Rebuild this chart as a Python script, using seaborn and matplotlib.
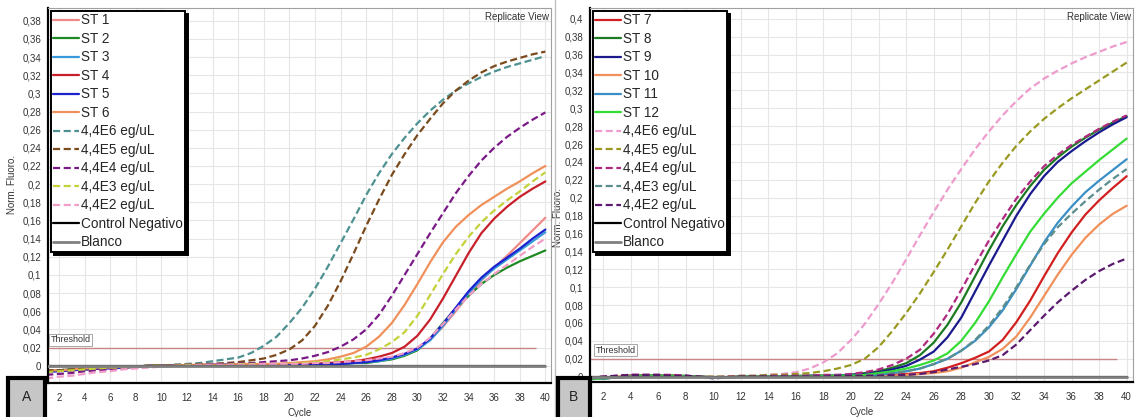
import matplotlib
matplotlib.use('Agg')
import numpy as np
import pandas as pd
import matplotlib.pyplot as plt
import seaborn as sns
from matplotlib import font_manager
from matplotlib.patches import Rectangle
from matplotlib.lines import Line2D

cycles = list(range(1, 41))
threshold = 0.02

# ---- panel A (values per cycle 1..40) ----
st1_a = [-0.006, -0.005, -0.005, -0.004, -0.003, -0.002, -0.002, -0.001, 0.000, 0.000,
         0.000, 0.000, 0.001, 0.001, 0.001, 0.001, 0.001, 0.001, 0.002, 0.002,
         0.002, 0.002, 0.003, 0.003, 0.004, 0.005, 0.007, 0.009, 0.013, 0.019,
         0.029, 0.043, 0.060, 0.078, 0.094, 0.108, 0.121, 0.135, 0.149, 0.163]
st2_a = [-0.005, -0.005, -0.004, -0.004, -0.003, -0.002, -0.002, -0.001, 0.000, 0.000,
         0.000, 0.000, 0.000, 0.000, 0.001, 0.001, 0.001, 0.001, 0.001, 0.001,
         0.001, 0.001, 0.002, 0.002, 0.003, 0.003, 0.005, 0.007, 0.011, 0.017,
         0.030, 0.047, 0.063, 0.077, 0.090, 0.100, 0.108, 0.115, 0.121, 0.127]
st3_a = [-0.006, -0.005, -0.004, -0.004, -0.003, -0.002, -0.001, -0.001, 0.000, 0.000,
         0.000, 0.000, 0.000, 0.001, 0.001, 0.001, 0.001, 0.001, 0.001, 0.001,
         0.001, 0.001, 0.002, 0.002, 0.003, 0.004, 0.005, 0.008, 0.012, 0.018,
         0.028, 0.044, 0.062, 0.080, 0.095, 0.107, 0.117, 0.127, 0.137, 0.147]
st4_a = [-0.006, -0.005, -0.005, -0.004, -0.003, -0.002, -0.002, -0.001, 0.000, 0.000,
         0.000, 0.000, 0.001, 0.001, 0.001, 0.001, 0.001, 0.001, 0.001, 0.001,
         0.002, 0.002, 0.003, 0.004, 0.005, 0.007, 0.010, 0.014, 0.021, 0.033,
         0.051, 0.074, 0.099, 0.124, 0.146, 0.162, 0.175, 0.186, 0.195, 0.203]
st5_a = [-0.007, -0.006, -0.005, -0.004, -0.003, -0.003, -0.002, -0.001, 0.000, 0.000,
         0.000, 0.000, 0.000, 0.001, 0.001, 0.001, 0.001, 0.001, 0.001, 0.001,
         0.001, 0.001, 0.002, 0.002, 0.003, 0.004, 0.006, 0.009, 0.013, 0.019,
         0.030, 0.046, 0.064, 0.082, 0.097, 0.109, 0.119, 0.129, 0.140, 0.150]
st6_a = [-0.005, -0.005, -0.004, -0.003, -0.002, -0.002, -0.001, -0.001, 0.000, 0.000,
         0.000, 0.001, 0.001, 0.001, 0.001, 0.002, 0.002, 0.002, 0.002, 0.003,
         0.004, 0.005, 0.007, 0.010, 0.014, 0.021, 0.032, 0.047, 0.067, 0.090,
         0.114, 0.136, 0.153, 0.166, 0.177, 0.186, 0.195, 0.203, 0.212, 0.220]
e6_a = [-0.006, -0.005, -0.004, -0.004, -0.003, -0.002, -0.002, -0.001, 0.000, 0.000,
        0.001, 0.002, 0.003, 0.005, 0.007, 0.009, 0.014, 0.022, 0.032, 0.047,
        0.064, 0.085, 0.109, 0.135, 0.161, 0.188, 0.212, 0.233, 0.251, 0.267,
        0.281, 0.293, 0.303, 0.311, 0.318, 0.324, 0.329, 0.333, 0.337, 0.341]
e5_a = [-0.005, -0.005, -0.004, -0.003, -0.003, -0.002, -0.001, -0.001, 0.000, 0.000,
        0.001, 0.001, 0.002, 0.002, 0.003, 0.004, 0.006, 0.008, 0.012, 0.018,
        0.028, 0.044, 0.066, 0.093, 0.123, 0.154, 0.183, 0.210, 0.233, 0.254,
        0.272, 0.289, 0.303, 0.314, 0.323, 0.330, 0.335, 0.339, 0.343, 0.346]
e4_a = [-0.010, -0.009, -0.008, -0.006, -0.005, -0.004, -0.003, -0.002, -0.001, 0.000,
        0.000, 0.001, 0.001, 0.002, 0.002, 0.003, 0.003, 0.004, 0.005, 0.006,
        0.008, 0.011, 0.015, 0.021, 0.029, 0.040, 0.056, 0.077, 0.100, 0.123,
        0.146, 0.168, 0.190, 0.209, 0.226, 0.240, 0.252, 0.262, 0.271, 0.279]
e3_a = [-0.007, -0.006, -0.005, -0.004, -0.003, -0.002, -0.002, -0.001, 0.000, 0.000,
        0.000, 0.001, 0.001, 0.001, 0.001, 0.002, 0.002, 0.002, 0.002, 0.002,
        0.003, 0.004, 0.005, 0.007, 0.009, 0.012, 0.018, 0.026, 0.037, 0.055,
        0.078, 0.101, 0.123, 0.142, 0.158, 0.171, 0.182, 0.192, 0.203, 0.213]
e2_a = [-0.014, -0.012, -0.011, -0.009, -0.007, -0.006, -0.004, -0.003, -0.002, -0.001,
        0.000, 0.000, 0.001, 0.001, 0.001, 0.001, 0.001, 0.002, 0.002, 0.002,
        0.002, 0.003, 0.003, 0.004, 0.005, 0.006, 0.008, 0.010, 0.014, 0.020,
        0.031, 0.046, 0.062, 0.077, 0.090, 0.101, 0.111, 0.121, 0.131, 0.140]

# ---- panel B ----
st7_b = [-0.001, -0.001, -0.001, 0.001, 0.001, 0.001, 0.001, 0.000, 0.000, -0.001,
         -0.001, 0.000, 0.000, 0.000, 0.000, 0.000, 0.000, 0.000, 0.000, 0.000,
         0.001, 0.001, 0.002, 0.003, 0.004, 0.006, 0.010, 0.015, 0.021, 0.028,
         0.041, 0.061, 0.085, 0.112, 0.138, 0.161, 0.181, 0.197, 0.211, 0.224]
st8_b = [-0.002, -0.002, -0.001, 0.001, 0.001, 0.001, 0.001, 0.001, 0.000, -0.001,
         -0.001, 0.000, 0.000, 0.000, 0.000, 0.001, 0.001, 0.001, 0.001, 0.002,
         0.004, 0.006, 0.010, 0.015, 0.024, 0.038, 0.058, 0.083, 0.112, 0.141,
         0.168, 0.192, 0.213, 0.231, 0.245, 0.257, 0.267, 0.276, 0.284, 0.291]
st9_b = [-0.002, -0.002, -0.001, 0.001, 0.001, 0.001, 0.001, 0.000, 0.000, -0.001,
         -0.001, 0.000, 0.000, 0.000, 0.000, 0.000, 0.001, 0.001, 0.001, 0.002,
         0.003, 0.005, 0.008, 0.012, 0.019, 0.028, 0.044, 0.066, 0.095, 0.124,
         0.152, 0.180, 0.204, 0.224, 0.240, 0.252, 0.263, 0.273, 0.282, 0.290]
st10_b = [-0.001, -0.001, 0.000, 0.001, 0.001, 0.001, 0.001, 0.000, 0.000, -0.001,
          -0.001, 0.000, 0.000, 0.000, 0.000, 0.000, 0.000, 0.000, 0.000, 0.000,
          0.000, 0.001, 0.001, 0.002, 0.003, 0.004, 0.006, 0.010, 0.016, 0.022,
          0.031, 0.045, 0.066, 0.090, 0.114, 0.136, 0.155, 0.170, 0.182, 0.191]
st11_b = [-0.003, -0.002, -0.001, 0.000, 0.001, 0.001, 0.000, 0.000, 0.000, -0.001,
          -0.001, 0.000, 0.000, 0.000, 0.000, 0.000, 0.000, 0.000, 0.001, 0.001,
          0.001, 0.002, 0.004, 0.006, 0.009, 0.014, 0.020, 0.029, 0.040, 0.055,
          0.074, 0.098, 0.124, 0.150, 0.172, 0.190, 0.206, 0.219, 0.231, 0.243]
st12_b = [-0.003, -0.002, -0.001, 0.000, 0.001, 0.001, 0.001, 0.000, 0.000, -0.001,
          -0.001, 0.000, 0.000, 0.000, 0.000, 0.000, 0.000, 0.001, 0.001, 0.001,
          0.002, 0.004, 0.006, 0.009, 0.013, 0.018, 0.026, 0.040, 0.060, 0.084,
          0.111, 0.137, 0.162, 0.182, 0.200, 0.216, 0.229, 0.242, 0.254, 0.266]
e6_b = [-0.001, -0.001, 0.000, 0.001, 0.001, 0.001, 0.001, 0.001, 0.000, 0.000,
        0.000, 0.001, 0.001, 0.002, 0.003, 0.005, 0.009, 0.016, 0.026, 0.041,
        0.059, 0.081, 0.105, 0.131, 0.158, 0.184, 0.209, 0.232, 0.254, 0.274,
        0.292, 0.308, 0.322, 0.333, 0.342, 0.350, 0.357, 0.363, 0.369, 0.374]
e5_b = [-0.001, -0.001, 0.000, 0.001, 0.001, 0.001, 0.001, 0.000, 0.000, 0.000,
        0.000, 0.001, 0.001, 0.002, 0.002, 0.003, 0.004, 0.006, 0.009, 0.013,
        0.020, 0.033, 0.051, 0.071, 0.093, 0.117, 0.142, 0.168, 0.194, 0.218,
        0.239, 0.258, 0.274, 0.288, 0.300, 0.311, 0.321, 0.331, 0.341, 0.351]
e4_b = [-0.001, 0.000, 0.001, 0.002, 0.002, 0.002, 0.002, 0.001, 0.000, -0.001,
        0.000, 0.000, 0.000, 0.001, 0.001, 0.001, 0.001, 0.002, 0.002, 0.003,
        0.005, 0.008, 0.013, 0.020, 0.030, 0.048, 0.070, 0.097, 0.125, 0.152,
        0.176, 0.199, 0.218, 0.235, 0.248, 0.259, 0.268, 0.277, 0.285, 0.292]
e3_b = [-0.002, -0.002, -0.001, 0.000, 0.000, 0.001, 0.000, 0.000, 0.000, -0.001,
        -0.001, 0.000, 0.000, 0.000, 0.000, 0.000, 0.000, 0.000, 0.001, 0.001,
        0.001, 0.002, 0.004, 0.006, 0.009, 0.014, 0.020, 0.029, 0.041, 0.057,
        0.077, 0.100, 0.125, 0.148, 0.167, 0.182, 0.196, 0.209, 0.221, 0.232]
e2_b = [-0.001, 0.000, 0.001, 0.002, 0.002, 0.002, 0.001, 0.001, 0.000, -0.002,
        -0.001, 0.000, 0.000, 0.000, 0.000, 0.000, 0.000, 0.000, 0.001, 0.001,
        0.001, 0.001, 0.002, 0.002, 0.003, 0.005, 0.008, 0.011, 0.014, 0.018,
        0.024, 0.036, 0.052, 0.068, 0.083, 0.096, 0.108, 0.118, 0.126, 0.132]

# controls (flat at zero in both panels)
control_neg = [0.000, 0.000, 0.000, 0.000, 0.000, 0.000, 0.000, 0.000, 0.000, 0.000,
               0.000, 0.000, 0.000, 0.000, 0.000, 0.000, 0.000, 0.000, 0.000, 0.000,
               0.000, 0.000, 0.000, 0.000, 0.000, 0.000, 0.000, 0.000, 0.000, 0.000,
               0.000, 0.000, 0.000, 0.000, 0.000, 0.000, 0.000, 0.000, 0.000, 0.000]
blanco = [0.000, 0.000, 0.000, 0.000, 0.000, 0.000, 0.000, 0.000, 0.000, 0.000,
          0.000, 0.000, 0.000, 0.000, 0.000, 0.000, 0.000, 0.000, 0.000, 0.000,
          0.000, 0.000, 0.000, 0.000, 0.000, 0.000, 0.000, 0.000, 0.000, 0.000,
          0.000, 0.000, 0.000, 0.000, 0.000, 0.000, 0.000, 0.000, 0.000, 0.000]

series_a = [
    ('ST 1', st1_a, '#f08a88', False),
    ('ST 2', st2_a, '#1f8a24', False),
    ('ST 3', st3_a, '#3a9ad9', False),
    ('ST 4', st4_a, '#c8202a', False),
    ('ST 5', st5_a, '#1c22d0', False),
    ('ST 6', st6_a, '#f0915c', False),
    ('4,4E6 eg/uL', e6_a, '#4f9191', True),
    ('4,4E5 eg/uL', e5_a, '#7a4a1c', True),
    ('4,4E4 eg/uL', e4_a, '#7a1a86', True),
    ('4,4E3 eg/uL', e3_a, '#c4d13a', True),
    ('4,4E2 eg/uL', e2_a, '#f29cc8', True),
]
series_b = [
    ('ST 7', st7_b, '#d21f1f', False),
    ('ST 8', st8_b, '#1d7a22', False),
    ('ST 9', st9_b, '#1a1a8e', False),
    ('ST 10', st10_b, '#f0915c', False),
    ('ST 11', st11_b, '#3a8fc6', False),
    ('ST 12', st12_b, '#35dc35', False),
    ('4,4E6 eg/uL', e6_b, '#ee9ccd', True),
    ('4,4E5 eg/uL', e5_b, '#9a9a22', True),
    ('4,4E4 eg/uL', e4_b, '#b02a80', True),
    ('4,4E3 eg/uL', e3_b, '#5a8d8d', True),
    ('4,4E2 eg/uL', e2_b, '#5c1a6e', True),
]

sns.set_style('white')
names = {f.name for f in font_manager.fontManager.ttflist}
tick_family = 'Liberation Sans Narrow' if 'Liberation Sans Narrow' in names else 'Liberation Sans'
plt.rcParams['font.family'] = ['Liberation Sans', 'DejaVu Sans']

W, H = 1137, 417
fig = plt.figure(figsize=(W / 100, H / 100), dpi=100)
fig.patch.set_facecolor('white')


def draw_panel(ax, series, ymax_tick, xlim, ylim, ylabel_pos, thr_end, thr_label_pos):
    ax.set_facecolor('white')
    for label, vals, color, dashed in series:
        ls = (0, (3.2, 1.6)) if dashed else '-'
        sns.lineplot(x=cycles, y=vals, ax=ax, color=color, linestyle=ls,
                     linewidth=1.6, label=label)
    sns.lineplot(x=cycles, y=control_neg, ax=ax, color='black', linewidth=1.6,
                 label='Control Negativo')
    sns.lineplot(x=cycles, y=blanco, ax=ax, color='#808080', linewidth=2.0,
                 label='Blanco', zorder=5)

    ax.hlines(threshold, xlim[0], thr_end, color='#c98686', linewidth=1.0, zorder=1)
    ax.text(thr_label_pos[0], thr_label_pos[1], 'Threshold', fontsize=6.5,
            color='#333333', family=tick_family, va='bottom', ha='left',
            bbox=dict(facecolor='white', edgecolor='#999999', linewidth=0.6, pad=1.2))
    ax.text(0.997, 0.99, 'Replicate View', transform=ax.transAxes, ha='right',
            va='top', fontsize=7, color='#333333', family=tick_family)

    ax.set_xlim(*xlim)
    ax.set_ylim(*ylim)
    ax.set_xticks(np.arange(2, 41, 2))
    yt = np.round(np.arange(0, ymax_tick + 0.001, 0.02), 2)
    ax.set_yticks(yt)
    ax.set_yticklabels([f'{v:g}'.replace('.', ',') for v in yt])
    ax.grid(True, color='#e6e6e6', linewidth=0.8)
    ax.set_axisbelow(True)
    ax.tick_params(axis='both', which='both', direction='out', length=3, width=0.6,
                   color='#888888', labelsize=7, labelcolor='#333333', pad=2)
    for lab in ax.get_xticklabels() + ax.get_yticklabels():
        lab.set_family(tick_family)
    ax.tick_params(axis='x', pad=4)

    for side in ['left', 'bottom']:
        ax.spines[side].set_color('black')
        ax.spines[side].set_linewidth(1.6)
    for side in ['top', 'right']:
        ax.spines[side].set_color('#a0a0a0')
        ax.spines[side].set_linewidth(0.8)

    ax.set_xlabel('Cycle', fontsize=7, color='#333333', family=tick_family)
    ax.set_ylabel('Norm. Fluoro.', fontsize=7, color='#333333', family=tick_family)
    ax.xaxis.set_label_coords(0.5, -0.068)
    ax.yaxis.set_label_coords(*ylabel_pos)

    leg = ax.legend(loc='upper left', bbox_to_anchor=(0, 1), borderaxespad=0.2,
                    fontsize=9.8, labelspacing=0.33, handlelength=1.9,
                    handletextpad=0.1, borderpad=0.2, fancybox=False,
                    framealpha=1, edgecolor='black',
                    shadow={'color': 'black', 'alpha': 1.0})
    leg.get_frame().set_linewidth(1.4)
    leg.set_zorder(10)


ax_a = fig.add_axes([48 / W, 1 - 383 / H, (551 - 48) / W, (383 - 8) / H])
ax_b = fig.add_axes([590 / W, 1 - 382 / H, (1133 - 590) / W, (382 - 8) / H])

draw_panel(ax_a, series_a, 0.38, (1.14, 40.44), (-0.019, 0.394), (-0.062, 0.53),
           39.3, (1.35, 0.0235))
draw_panel(ax_b, series_b, 0.40, (1.06, 40.46), (-0.006, 0.412), (-0.05, 0.44),
           39.3, (1.45, 0.0245))

# panel letters
for x0, x1, txt in [(8, 45, 'A'), (558, 590, 'B')]:
    fig.add_artist(Rectangle((x0 / W, -0.01), (x1 - x0) / W, (417 - 378) / H + 0.01,
                             transform=fig.transFigure, facecolor='#c6c6c6',
                             edgecolor='black', linewidth=3, zorder=20))
    fig.text((x0 + x1) / 2 / W, 1 - 397 / H, txt, ha='center', va='center',
             fontsize=10, color='#222222', zorder=21)

fig.add_artist(Line2D([555 / W, 555 / W], [0, 1], transform=fig.transFigure,
                      color='#c0c0c0', linewidth=1.0))

fig.savefig('out.png', dpi=100, facecolor='white')
